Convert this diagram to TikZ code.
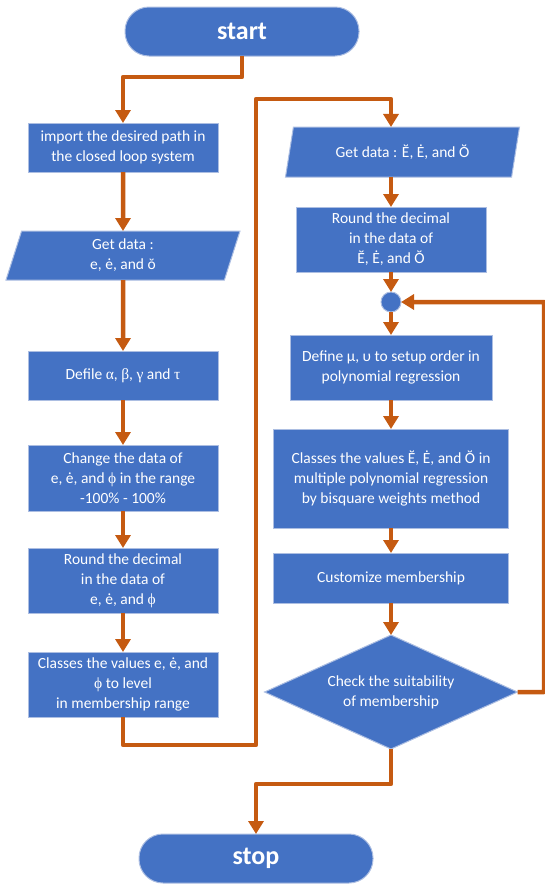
\documentclass[tikz,border=0pt]{standalone}
\usepackage{fontspec}
\setmainfont{Carlito}
\newfontfamily\grk{Liberation Serif}
\usetikzlibrary{arrows.meta,positioning,shapes.geometric}
\definecolor{fcb}{RGB}{68,114,196}
\definecolor{fco}{RGB}{197,90,17}
\definecolor{fce}{RGB}{172,190,226}

\begin{document}
\begin{tikzpicture}[x=1pt,y=1pt,
  font=\fontsize{15.5}{20}\selectfont,
  every node/.style={outer sep=0pt},
  box/.style={draw=fce,fill=fcb,text=white,line width=1pt,align=center,minimum width=190pt,minimum height=65pt,inner sep=2pt},
  io/.style={trapezium,trapezium left angle=67,trapezium right angle=113,trapezium stretches body,
    draw=fce,fill=fcb,text=white,line width=1pt,align=center,minimum width=234pt,minimum height=49pt,inner sep=2pt},
  term/.style={draw=fce,fill=fcb,text=white,line width=1pt,rounded corners=24pt,minimum width=234pt,minimum height=49pt,
    font=\fontsize{26}{30}\selectfont\bfseries},
  dec/.style={diamond,aspect=2.2,draw=fce,fill=fcb,text=white,line width=1pt,align=center,
    minimum width=253pt,minimum height=114pt,inner sep=0pt},
  jn/.style={circle,draw=fce,fill=fcb,line width=1pt,minimum size=20pt,inner sep=0pt},
  arr/.style={-{Triangle[length=13pt,width=15pt]},line width=4.5pt,draw=fco,line join=round}
]
\useasboundingbox (0,0) rectangle (545,-884);
% left column
\node[term] (start) at (242,-31.5) {start};
\node[box,minimum height=49pt] (imp) at (123,-147.5) {import the desired path in\\the closed loop system};
\node[io,below=59pt of imp] (getl) {Get data :\\e, ė, and ŏ};
\node[box,minimum height=49pt,below=71pt of getl] (defl) {Defile {\grk α}, {\grk β}, {\grk γ} and {\grk τ}};
\node[box,minimum height=66pt,below=45pt of defl] (chg) {Change the data of\\e, ė, and {\grk ϕ} in the range\\-100\% - 100\%};
\node[box,below=37pt of chg] (rndl) {Round the decimal\\in the data of\\e, ė, and {\grk ϕ}};
\node[box,below=39pt of rndl] (clsl) {Classes the values e, ė, and\\{\grk ϕ} to level\\in membership range};
% right column
\node[io,minimum height=50pt] (getr) at (402.5,-152) {Get data : Ĕ, Ė, and Ŏ};
\node[box,below=30pt of getr,xshift=-11.5pt] (rndr) {Round the decimal\\in the data of\\Ĕ, Ė, and Ŏ};
\node[jn,below=20pt of rndr] (mrg) {};
\node[box,minimum width=202pt,below=23pt of mrg] (defr) {Define μ, υ to setup order in\\polynomial regression};
\node[box,minimum width=235pt,minimum height=99pt,below=29pt of defr] (clsr)
  {Classes the values Ĕ, Ė, and Ŏ in\\multiple polynomial regression\\by bisquare weights method};
\node[box,minimum width=235pt,minimum height=50pt,below=25pt of clsr] (cust) {Customize membership};
\node[dec,below=32pt of cust] (chk) {Check the suitability\\of membership};
\node[term] (stop) at (256,-858.5) {stop};
\coordinate (lb) at (256,-745);
\coordinate (lt) at (256,-99);
\coordinate (fb) at (544,-692);
% connectors
\draw[arr] (start.south) -- ++(0,-21) -| (imp.north);
\draw[arr] (imp) -- (getl);
\draw[arr] (getl) -- (defl);
\draw[arr] (defl) -- (chg);
\draw[arr] (chg) -- (rndl);
\draw[arr] (rndl) -- (clsl);
\draw[arr] (clsl.south) |- (lb) -- (lt) -| (rndr.north |- getr.north);
\draw[arr] (rndr.north |- getr.south) -- (rndr);
\draw[arr] (rndr) -- (mrg);
\draw[arr] (mrg) -- (defr);
\draw[arr] (defr) -- (clsr);
\draw[arr] (clsr) -- (cust);
\draw[arr] (cust) -- (chk);
\draw[arr] (chk.east) -- (fb) |- (mrg.east);
\draw[arr] (chk.south) -- ++(0,-35) -| (stop.north);
\end{tikzpicture}
\end{document}
